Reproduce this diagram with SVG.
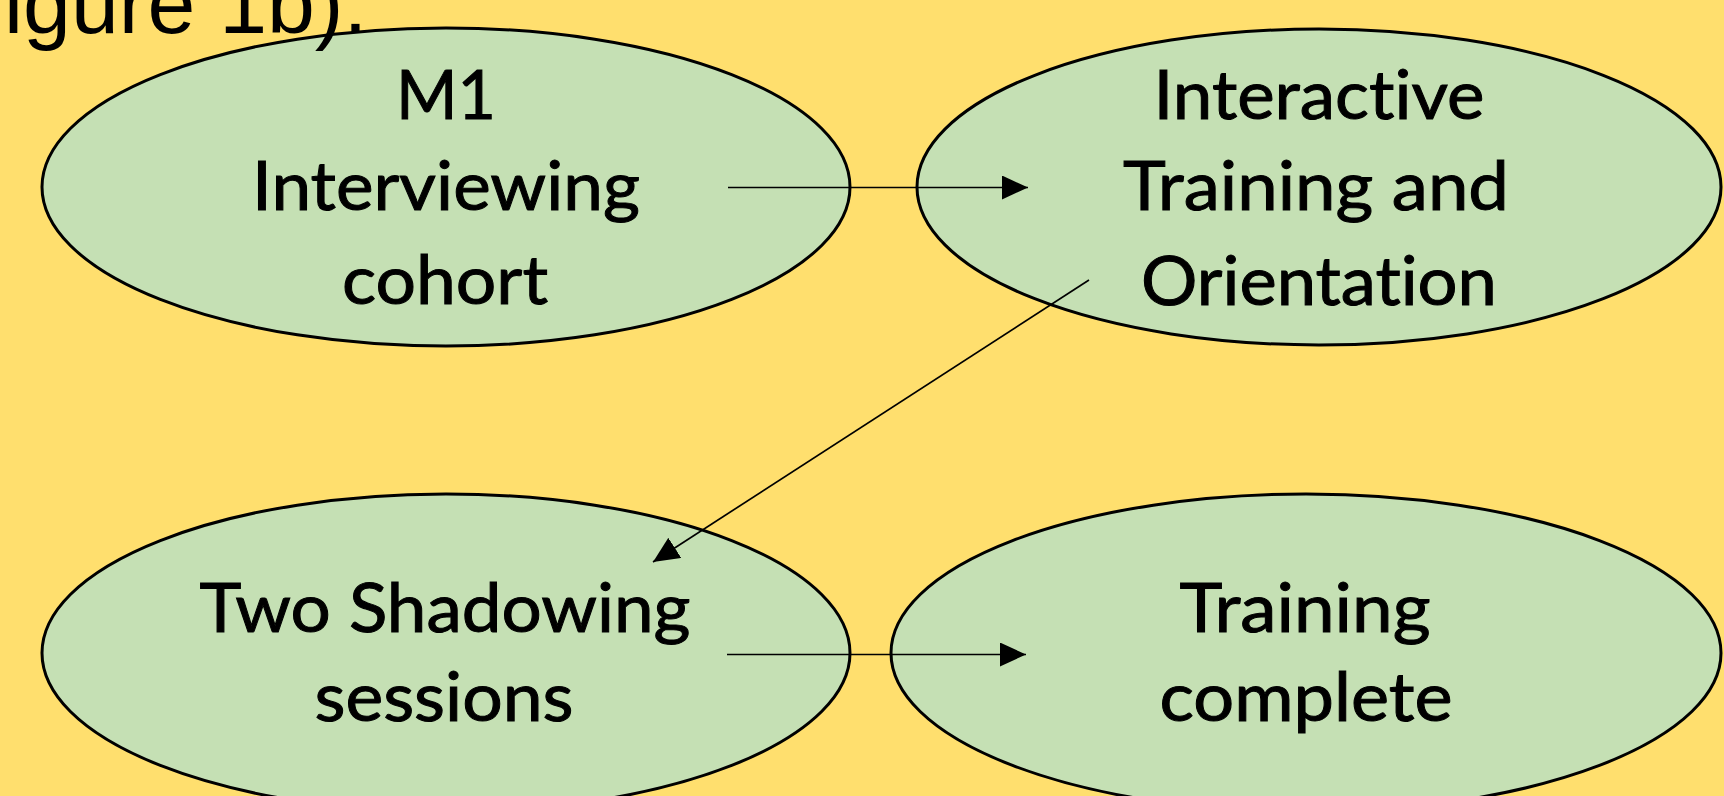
<svg xmlns="http://www.w3.org/2000/svg" width="1724" height="796" viewBox="0 0 1724 796">
<style>
.bg{fill:#FFDF6E}
.node ellipse{fill:#C5E0B4;stroke:#000;stroke-width:3}
.node text{font-family:Lato,"Open Sans","Noto Sans",sans-serif;font-size:68px;fill:#000;stroke:#000;stroke-width:1;text-anchor:middle;font-variant-ligatures:none;font-feature-settings:"liga" 0}
.conn line{stroke:#000;stroke-width:1.7;fill:none}
.caption{font-family:"Liberation Sans",Arial,sans-serif;font-size:86px;fill:#000}
</style>
<defs>
<marker id="arr" markerUnits="userSpaceOnUse" markerWidth="26" markerHeight="24" refX="26" refY="12" orient="auto">
<path d="M0,0 L26,12 L0,24 z" fill="#000"/>
</marker>
</defs>
<rect class="bg" x="0" y="0" width="1724" height="796"/>
<g id="node-m1" class="node">
<ellipse cx="446" cy="187" rx="404" ry="159"/>
<text x="446" y="119" textLength="100" lengthAdjust="spacingAndGlyphs">M1</text>
<text x="446" y="210" textLength="388" lengthAdjust="spacingAndGlyphs">Interviewing</text>
<text x="445" y="304" textLength="206" lengthAdjust="spacingAndGlyphs">cohort</text>
</g>
<g id="node-training" class="node">
<ellipse cx="1319" cy="187" rx="402" ry="158"/>
<text x="1319" y="119" textLength="331" lengthAdjust="spacingAndGlyphs">Interactive</text>
<text x="1316" y="210" textLength="386" lengthAdjust="spacingAndGlyphs">Training and</text>
<text x="1319" y="305" textLength="356" lengthAdjust="spacingAndGlyphs">Orientation</text>
</g>
<g id="node-shadowing" class="node">
<ellipse cx="446" cy="653" rx="404" ry="159"/>
<text x="445" y="632" textLength="491" lengthAdjust="spacingAndGlyphs">Two Shadowing</text>
<text x="444" y="721" textLength="259" lengthAdjust="spacingAndGlyphs">sessions</text>
</g>
<g id="node-complete" class="node">
<ellipse cx="1306" cy="653" rx="415" ry="159"/>
<text x="1305" y="632" textLength="251" lengthAdjust="spacingAndGlyphs">Training</text>
<text x="1306" y="721" textLength="293" lengthAdjust="spacingAndGlyphs">complete</text>
</g>
<g id="connectors" class="conn">
<line x1="728" y1="187.5" x2="1028" y2="187.5" marker-end="url(#arr)"/>
<line x1="1089" y1="280" x2="653" y2="562" marker-end="url(#arr)"/>
<line x1="727" y1="654.5" x2="1026" y2="654.5" marker-end="url(#arr)"/>
</g>
<text class="caption" x="4" y="33">igure 1b).</text>
</svg>
